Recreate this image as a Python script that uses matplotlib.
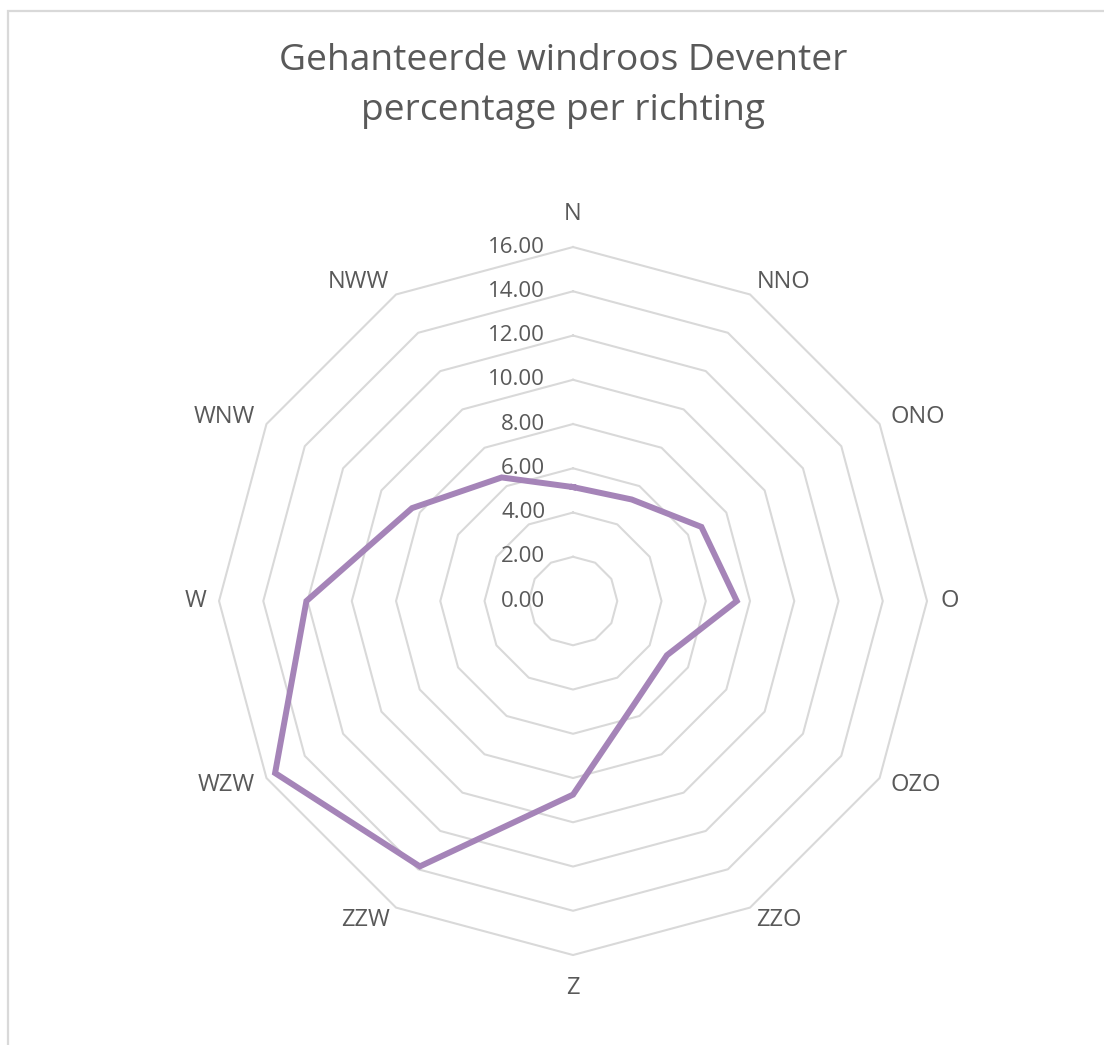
import numpy as np
import matplotlib as mpl
import matplotlib.pyplot as plt
from matplotlib.patches import Rectangle

mpl.use("Agg")
plt.rcParams['font.family'] = ['Open Sans', 'DejaVu Sans']

# wind directions (clockwise from north) and share per direction in %
directions = ["N", "NNO", "ONO", "O", "OZO", "ZZO", "Z", "ZZW", "WZW", "W", "WNW", "NWW"]
percentages = [5.15, 5.30, 6.70, 7.40, 4.90, 5.45, 8.75, 13.85, 15.55, 12.05, 8.40, 6.45]
rings = [0, 2, 4, 6, 8, 10, 12, 14, 16]

grey = '#595959'
grid_col = '#D9D9D9'
purple = '#A584B8'

angles = np.linspace(0, 2 * np.pi, len(directions), endpoint=False)
closed = np.append(angles, angles[0])

fig = plt.figure(figsize=(11.04, 10.45), dpi=100)
ax = fig.add_axes([0.1984, 0.0861, 0.6413, 0.6775], projection='polar')
ax.set_theta_zero_location('N')
ax.set_theta_direction(-1)
ax.set_ylim(0, 16)
ax.grid(False)
ax.spines['polar'].set_visible(False)
ax.set_xticks([])
ax.set_yticks([])

# polygon gridlines
for r in rings[1:]:
    ax.plot(closed, [r] * len(closed), color=grid_col, lw=1.5, zorder=1, clip_on=False)

# data line
vals = percentages + percentages[:1]
ax.plot(closed, vals, color=purple, lw=4.3, zorder=3, solid_joinstyle='miter', clip_on=False)

# value labels along the N axis
for r in rings:
    ax.annotate(f"{r:.2f}", xy=(0, r), xytext=(-20, 0), textcoords='offset points',
                ha='right', va='center', fontsize=16, color=grey, zorder=4,
                annotation_clip=False)

# direction labels, placed off the end of each axis like Excel does
for a, lab in zip(angles, directions):
    s, c = np.sin(a), np.cos(a)
    if abs(s) < 0.1:
        ha, dy = 'center', -c * 33
    else:
        ha, dy = ('left' if s > 0 else 'right'), -c * 14
    dx = 13 * s
    ax.annotate(lab, xy=(a, 16), xytext=(dx, -dy), textcoords='offset pixels',
                ha=ha, va='center', fontsize=17, color=grey, annotation_clip=False)

fig.text(563 / 1104, 1 - 61 / 1045, "Gehanteerde windroos Deventer",
         ha='center', va='center', fontsize=26.7, color=grey)
fig.text(563 / 1104, 1 - 111 / 1045, "percentage per richting",
         ha='center', va='center', fontsize=26.7, color=grey)

# chart border (cropped at right and bottom)
fig.patches.append(Rectangle((8 / 1104, -0.1), 1.2, (1045 - 11) / 1045 + 0.1,
                             transform=fig.transFigure, fill=False,
                             edgecolor=grid_col, lw=1.6))

fig.savefig("out.png", dpi=100, facecolor='white')
